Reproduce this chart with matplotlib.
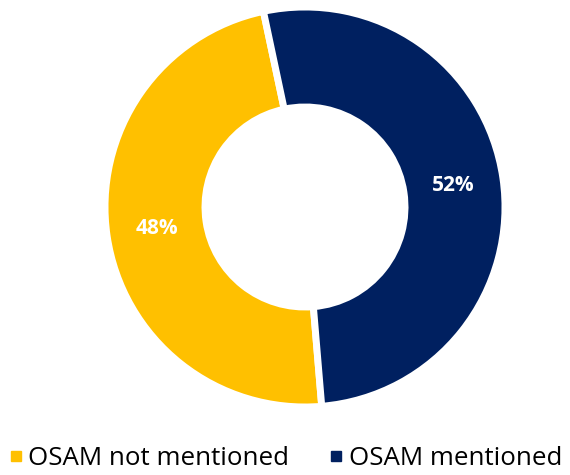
import matplotlib.pyplot as plt
from matplotlib.lines import Line2D

labels = ["OSAM not mentioned", "OSAM mentioned"]
shares = [48, 52]
colors = ["#FFC000", "#002060"]

fig = plt.figure(figsize=(5.7, 4.75), dpi=100)
ax = fig.add_axes([105 / 570, 68 / 475, 400 / 570, 400 / 475])

wedges, texts, autotexts = ax.pie(
    shares, colors=colors, startangle=102, counterclock=True,
    autopct="%d%%", pctdistance=0.75,
    wedgeprops=dict(width=0.5, edgecolor="white", linewidth=5),
    textprops=dict(color="white", fontsize=15, fontweight="bold", family="Open Sans"))
ax.set_xlim(-1.0, 1.0)
ax.set_ylim(-1.0, 1.0)
ax.set_aspect("equal")

handles = [Line2D([], [], marker="s", linestyle="none", markersize=7,
                  markerfacecolor=c, markeredgecolor=c) for c in colors]
fig.legend(handles, labels, loc="lower center", bbox_to_anchor=(0.5, -0.04),
           ncol=2, frameon=False, handletextpad=0.2, columnspacing=1.5,
           handlelength=0.6, prop=dict(family="Open Sans", size=18.6))

fig.savefig("out.png", dpi=100)
